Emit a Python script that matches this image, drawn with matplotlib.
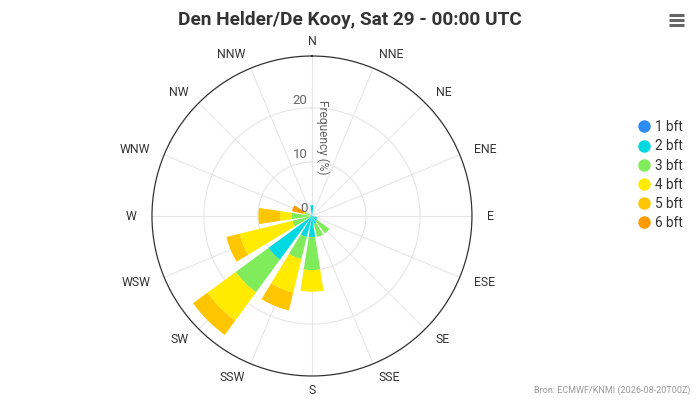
import numpy as np
import matplotlib.pyplot as plt
from matplotlib.lines import Line2D

plt.rcParams['font.family'] = ['Roboto', 'DejaVu Sans']

# ======= DATA =======
richtingen = ['N', 'NNE', 'NE', 'ENE', 'E', 'ESE', 'SE', 'SSE',
              'S', 'SSW', 'SW', 'WSW', 'W', 'WNW', 'NW', 'NNW']
bft1 = [0, 0, 0, 0, 0, 0, 0, 0, 0, 0, 0, 0, 0, 0, 0, 0]
bft2 = [2.0, 0, 0, 0, 0, 1.0, 1.2, 1.5, 3.9, 4.0, 10.0, 0.3, 0.3, 0.4, 0, 0]
bft3 = [0, 0, 0, 0, 0, 0, 2.8, 2.5, 6.1, 4.2, 7.5, 3.4, 3.5, 1.0, 0, 0]
bft4 = [0, 0, 0, 0, 0, 0, 0, 0, 4.0, 6.4, 6.5, 10.1, 2.1, 0.3, 0, 0]
bft5 = [0, 0, 0, 0, 0, 0, 0, 0, 0, 3.4, 3.3, 2.5, 4.0, 0, 0, 0]
bft6 = [0, 0, 0, 0, 0, 0, 0, 0, 0, 0, 0, 0, 0, 2.1, 0, 0]

series = [bft1, bft2, bft3, bft4, bft5, bft6]
namen = ['1 bft', '2 bft', '3 bft', '4 bft', '5 bft', '6 bft']
kleuren = ['#2b8cf2', '#00d8e2', '#80ec5c', '#ffeb00', '#ffc600', '#ff9a00']

r_ticks = [0, 10, 20]
r_max = 29.6

# ======= PLOT =======
fig = plt.figure(figsize=(7, 4), dpi=100)
ax = fig.add_axes([0.2171, 0.06, 0.4571, 0.8], projection='polar')
ax.set_theta_zero_location('N')
ax.set_theta_direction(-1)

theta = np.deg2rad(np.arange(len(richtingen)) * 22.5)
breedte = np.deg2rad(17.5)
bodem = np.zeros(len(richtingen))
for vals, naam, kleur in zip(series, namen, kleuren):
    vals = np.array(vals, dtype=float)
    ax.bar(theta, vals, width=breedte, bottom=bodem, color=kleur,
           edgecolor='none', zorder=3)
    bodem += vals

ax.set_ylim(0, r_max)
ax.set_xticks(theta)
ax.set_xticklabels([])
ax.set_yticks(r_ticks[1:])
ax.set_yticklabels([])
ax.grid(True, color='#e6e6e6', linewidth=0.8)
ax.spines['polar'].set_color('#333333')
ax.spines['polar'].set_linewidth(0.9)

# richtingslabels buiten de cirkel
r_lab = r_max * 175 / 160
for t, lab in zip(theta, richtingen):
    s = np.sin(t)
    if abs(s) < 0.01:
        ha = 'center'
    elif s > 0:
        ha = 'left'
    else:
        ha = 'right'
    ax.text(t, r_lab, lab, ha=ha, va='center', fontsize=8.8,
            color='#333333', clip_on=False)

# radiale labels
for v in r_ticks:
    ax.annotate(str(v), xy=(0, v), xytext=(-3, 0.5), textcoords='offset points',
                ha='right', va='bottom', fontsize=9.5, color='#666666', zorder=5)
ax.annotate('Frequency (%)', xy=(0, 14.6), xytext=(3, 0), textcoords='offset points',
            ha='left', va='center', rotation=-90, fontsize=8.6, color='#666666')

fig.text(0.5, 0.95, 'Den Helder/De Kooy, Sat 29 - 00:00 UTC', ha='center',
         va='center', fontsize=13.7, fontweight='bold', color='#333333')

handles = [Line2D([], [], marker='o', linestyle='none', markersize=9,
                  markerfacecolor=k, markeredgecolor='none') for k in kleuren]
fig.legend(handles, namen, loc='upper left', bbox_to_anchor=(0.902, 0.713),
           frameon=False, fontsize=9.8, labelcolor='#333333', handlelength=1.0,
           handletextpad=0.35, labelspacing=0.38, borderaxespad=0)

# menu-icoon
for y in (14.5, 19.5, 24.5):
    fig.add_artist(Line2D([669 / 700, 684 / 700], [1 - y / 400, 1 - y / 400],
                          color='#666666', linewidth=2.2, solid_capstyle='butt'))

fig.text(690 / 700, 1 - 390 / 400, 'Bron: ECMWF/KNMI (2026-08-20T00Z)',
         ha='right', va='center', fontsize=6.5, color='#999999')

fig.savefig('out.png', dpi=100)
